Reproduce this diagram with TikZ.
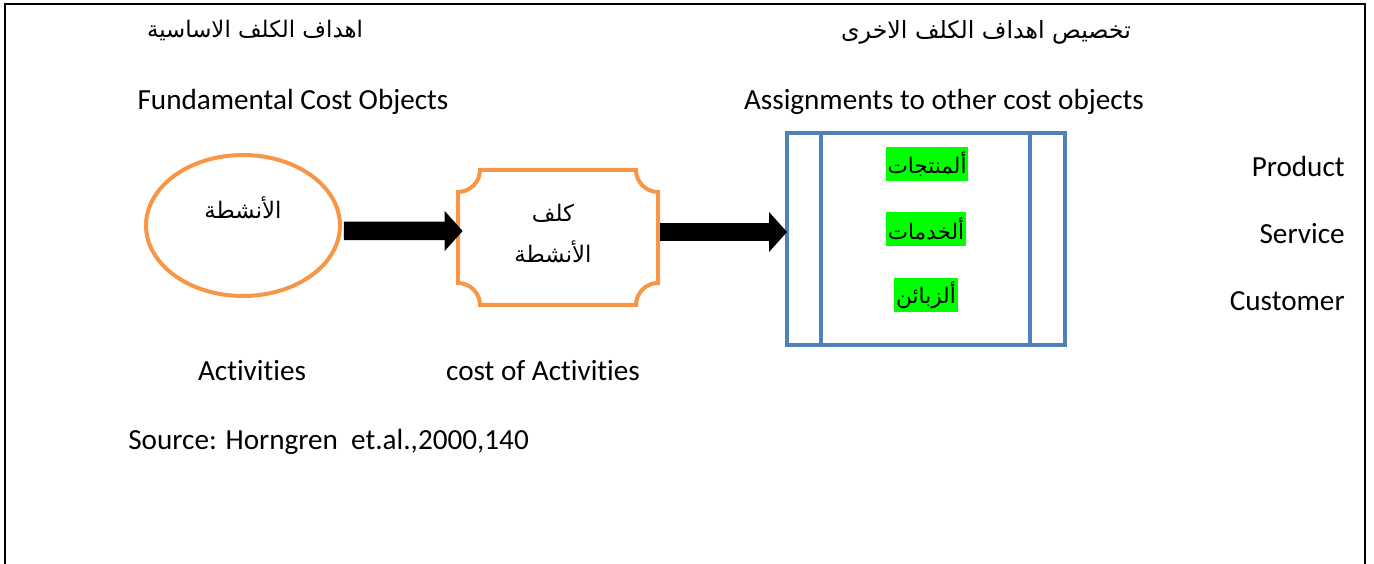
\documentclass[tikz,border=0pt]{standalone}
\usepackage{fontspec}
\setmainfont{Carlito}[Ligatures=NoCommon]
\newfontfamily\arabicfont[Script=Arabic]{DejaVu Sans}
\TeXXeTstate=1
\usetikzlibrary{arrows.meta,shapes.geometric}
\definecolor{costorange}{HTML}{F79646}
\definecolor{costblue}{HTML}{4F81BD}
\definecolor{markgreen}{HTML}{00FF00}
\newcommand{\artext}[1]{\arabicfont\beginR #1\endR}
\begin{document}
\begin{tikzpicture}[x=0.02cm, y=-0.02cm,
    lat/.style={font=\fontsize{16.6}{20}\selectfont, inner sep=0pt},
    arb/.style={font=\fontsize{13}{17}\selectfont, inner sep=0pt},
    marked/.style={font=\fontsize{12.3}{16}\selectfont, fill=markgreen, inner sep=1pt, minimum height=0.68cm},
    fatarrow/.style={line width=0.37cm, -{Triangle[length=0.36cm, width=0.78cm]}}]
	\useasboundingbox (0,0) rectangle (1374,564);
	% outer frame, open at the bottom
	\draw[line width=1.2pt] (5,564) -- (5,4) -- (1365,4) -- (1365,564);
	% headings
	\node[arb] (hleft) at (255,30) {\artext{اهداف الكلف الاساسية}};
	\node[arb, font=\fontsize{13.5}{17}\selectfont] (hright) at (986,32) {\artext{تخصيص اهداف الكلف الاخرى}};
	\node[lat, anchor=base] (fco) at (293,110) {Fundamental Cost Objects};
	\node[lat, anchor=base] (aoc) at (944,110) {Assignments to other cost objects};
	% activities
	\node[ellipse, draw=costorange, line width=0.08cm, minimum width=3.88cm, minimum height=2.82cm] (act) at (243,225.5) {};
	\node[arb] (acttxt) at (243,208) {\artext{الأنشطة}};
	% cost of activities (plaque)
	\node[minimum width=4cm, minimum height=2.7cm, inner sep=0pt] (costbox) at (558,237.5) {};
	\draw[costorange, line width=0.08cm] (480,170) -- (636,170)
		.. controls (636,182) and (646,192) .. (658,192) -- (658,283)
		.. controls (646,283) and (636,293) .. (636,305) -- (480,305)
		.. controls (480,293) and (470,283) .. (458,283) -- (458,192)
		.. controls (470,192) and (480,182) .. (480,170) -- cycle;
	\node[arb] (costtxt1) at (553,213) {\artext{كلف}};
	\node[arb] (costtxt2) at (553,252) {\artext{الأنشطة}};
	% other cost objects
	\node[draw=costblue, line width=0.08cm, minimum width=5.56cm, minimum height=4.24cm] (assign) at (926,239) {};
	\draw[costblue, line width=0.08cm] ([shift={(36,0)}]assign.north west) -- ([shift={(36,0)}]assign.south west);
	\draw[costblue, line width=0.08cm] ([shift={(-37,0)}]assign.north east) -- ([shift={(-37,0)}]assign.south east);
	\node[marked] (prod) at (927,164) {\artext{ألمنتجات}};
	\node[marked] (serv) at (926,229) {\artext{ألخدمات}};
	\node[marked] (cust) at (926,295) {\artext{ألزبائن}};
	% arrows
	\draw[fatarrow] ([shift={(2,5.5)}]act.east) -- ([shift={(5,-6.5)}]costbox.west);
	\draw[fatarrow] ([shift={(2,-5.5)}]costbox.east) -- ([shift={(2,-7)}]assign.west);
	% english labels
	\node[lat, anchor=base east] (product) at (1345,177) {Product};
	\node[lat, anchor=base east] (service) at (1345,244) {Service};
	\node[lat, anchor=base east] (customer) at (1345,311) {Customer};
	\node[lat, anchor=base] (activities) at (252,381) {Activities};
	\node[lat, anchor=base] (costact) at (543,381) {cost of Activities};
	\node[lat, anchor=base west] (source) at (128,450) {Source: Horngren\ \ et.al.,2000,140};
\end{tikzpicture}
\end{document}
